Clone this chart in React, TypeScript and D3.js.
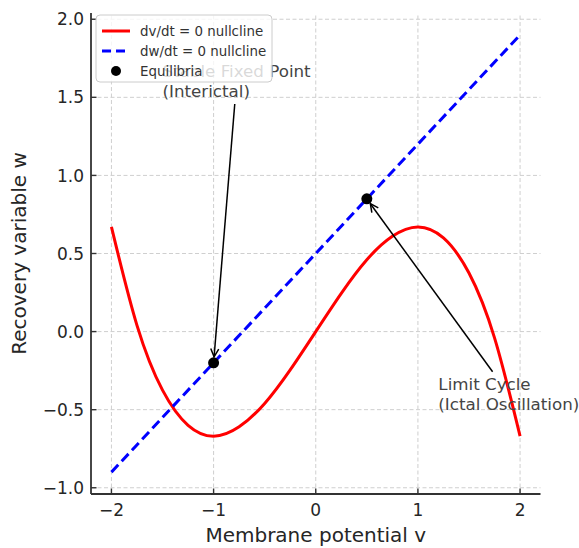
import React from "react";
import { scaleLinear, line, curveNatural } from "d3";

// values
const vSamples = [-2, -1.75, -1.5, -1.25, -1, -0.75, -0.5, -0.25, 0, 0.25, 0.5, 0.75, 1, 1.25, 1.5, 1.75, 2];
const vNullcline = [0.67, 0.04, -0.375, -0.6, -0.67, -0.61, -0.46, -0.245, 0, 0.245, 0.46, 0.61, 0.67, 0.6, 0.375, -0.04, -0.67];
const wLineV = [-2, 2];
const wNullcline = [-0.9, 1.9];
const equilibriaV = [-1, 0.5];
const equilibriaW = [-0.2, 0.85];

const xTicks = [-2, -1, 0, 1, 2];
const yTicks = [-1.0, -0.5, 0.0, 0.5, 1.0, 1.5, 2.0];

const annotations = [
  { lines: ["Stable Fixed Point", "(Interictal)"], text: [-1.5, 1.5], target: [-1, -0.2] },
  { lines: ["Limit Cycle", "(Ictal Oscillation)"], text: [1.2, -0.5], target: [0.5, 0.85] },
];

const legendItems = ["dv/dt = 0 nullcline", "dw/dt = 0 nullcline", "Equilibria"];

const width = 579;
const height = 548;
const margin = { top: 13, right: 38.5, bottom: 54, left: 91 };
const font = "DejaVu Sans, sans-serif";
const annSize = 16.7;

function measure(s: string, size: number) {
  const c = document.createElement("canvas").getContext("2d");
  if (!c) return s.length * size * 0.6;
  c.font = `${size}px DejaVu Sans`;
  return c.measureText(s).width;
}

const fmt = (d: number) => (d < 0 ? "\u2212" : "") + Math.abs(d).toString();
const fmt1 = (d: number) => (d < 0 ? "\u2212" : "") + Math.abs(d).toFixed(1);

function App() {
  const x = scaleLinear().domain([-2.2, 2.2]).range([margin.left, width - margin.right]);
  const y = scaleLinear().domain([-1.04, 2.04]).range([height - margin.bottom, margin.top]);
  const x0 = margin.left;
  const x1 = width - margin.right;
  const y0 = height - margin.bottom;
  const y1 = margin.top;

  const redPath = line<number>()
    .x((_, i) => x(vSamples[i]))
    .y((d) => y(d))
    .curve(curveNatural)(vNullcline);
  const bluePath = line<number>()
    .x((_, i) => x(wLineV[i]))
    .y((d) => y(d))(wNullcline);

  const lh = annSize * 1.2;

  return (
    <svg width={width} height={height} style={{ position: "absolute", left: 0, top: 0 }} fontFamily={font}>
      <rect width={width} height={height} fill="white" />
      {/* grid */}
      {xTicks.map((d) => (
        <line key={"gx" + d} x1={x(d)} x2={x(d)} y1={y0} y2={y1} stroke="#cfcfcf" strokeWidth={1} strokeDasharray="4,2.5" />
      ))}
      {yTicks.map((d) => (
        <line key={"gy" + d} x1={x0} x2={x1} y1={y(d)} y2={y(d)} stroke="#cfcfcf" strokeWidth={1} strokeDasharray="4,2.5" />
      ))}

      {/* nullclines */}
      <path d={redPath || ""} fill="none" stroke="#ff0000" strokeWidth={3} />
      <path d={bluePath || ""} fill="none" stroke="#0000ff" strokeWidth={3} strokeDasharray="10,5" />
      {equilibriaV.map((v, i) => (
        <circle key={"eq" + i} cx={x(v)} cy={y(equilibriaW[i])} r={5.5} fill="black" />
      ))}

      {/* annotations */}
      {annotations.map((a, k) => {
        const tx = x(a.text[0]);
        const lastBase = y(a.text[1]);
        const firstBase = lastBase - lh * (a.lines.length - 1);
        const w = Math.max(...a.lines.map((s) => measure(s, annSize)));
        const top = firstBase - annSize * 0.95 - 2;
        const bottom = lastBase + annSize * 0.28 + 2;
        const cx = tx + w / 2;
        const cy = (top + bottom) / 2;
        const px = x(a.target[0]);
        const py = y(a.target[1]);
        const dx = px - cx;
        const dy = py - cy;
        // where the line from the box centre leaves the box
        const tEdge = Math.min(
          Math.abs(dx) > 0 ? (w / 2 + 2) / Math.abs(dx) : Infinity,
          Math.abs(dy) > 0 ? ((bottom - top) / 2) / Math.abs(dy) : Infinity
        );
        const sx = cx + dx * tEdge;
        const sy = cy + dy * tEdge;
        const len = Math.hypot(px - sx, py - sy);
        const ux = (px - sx) / len;
        const uy = (py - sy) / len;
        const ex = px - ux * 6;
        const ey = py - uy * 6;
        const hl = 8;
        const hw = 4;
        const bx = ex - ux * hl;
        const by = ey - uy * hl;
        return (
          <g key={"ann" + k}>
            <text fill="#444" fontSize={annSize}>
              {a.lines.map((s, i) => (
                <tspan key={i} x={tx} y={firstBase + i * lh}>
                  {s}
                </tspan>
              ))}
            </text>
            <line x1={sx} y1={sy} x2={ex} y2={ey} stroke="black" strokeWidth={1.5} />
            <path
              d={`M${bx - uy * hw},${by + ux * hw}L${ex},${ey}L${bx + uy * hw},${by - ux * hw}`}
              fill="none"
              stroke="black"
              strokeWidth={1.5}
            />
          </g>
        );
      })}

      {/* spines and ticks */}
      <line x1={x0} x2={x0} y1={y0} y2={y1} stroke="#333" strokeWidth={1.8} />
      <line x1={x0} x2={x1} y1={y0} y2={y0} stroke="#333" strokeWidth={1.8} />
      {xTicks.map((d) => (
        <g key={"tx" + d}>
          <line x1={x(d)} x2={x(d)} y1={y0} y2={y0 - 5.5} stroke="#333" strokeWidth={1.4} />
          <text x={x(d)} y={y0 + 22} textAnchor="middle" fontSize={17} fill="#262626">
            {fmt(d)}
          </text>
        </g>
      ))}
      {yTicks.map((d) => (
        <g key={"ty" + d}>
          <line x1={x0} x2={x0 + 5.5} y1={y(d)} y2={y(d)} stroke="#333" strokeWidth={1.4} />
          <text x={x0 - 7} y={y(d)} dy="0.36em" textAnchor="end" fontSize={17} fill="#262626">
            {fmt1(d)}
          </text>
        </g>
      ))}
      <text x={(x0 + x1) / 2} y={height - 6} textAnchor="middle" fontSize={20} fill="#262626">
        Membrane potential v
      </text>
      <text
        transform={`translate(26,${(y0 + y1) / 2}) rotate(-90)`}
        textAnchor="middle"
        fontSize={20}
        fill="#262626"
      >
        Recovery variable w
      </text>

      {/* legend */}
      <g>
        <rect x={96} y={15} width={176} height={67} rx={4} fill="white" fillOpacity={0.8} stroke="#cccccc" strokeWidth={1} />
        {legendItems.map((s, i) => {
          const ry = 31 + i * 20;
          return (
            <g key={"lg" + i}>
              {i === 0 && <line x1={102} x2={130} y1={ry} y2={ry} stroke="#ff0000" strokeWidth={3} />}
              {i === 1 && <line x1={102} x2={130} y1={ry} y2={ry} stroke="#0000ff" strokeWidth={3} strokeDasharray="9,5" />}
              {i === 2 && <circle cx={116} cy={ry} r={5} fill="black" />}
              <text x={140} y={ry} dy="0.36em" fontSize={13.4} fill="#333">
                {s}
              </text>
            </g>
          );
        })}
      </g>
    </svg>
  );
}

export default App;
